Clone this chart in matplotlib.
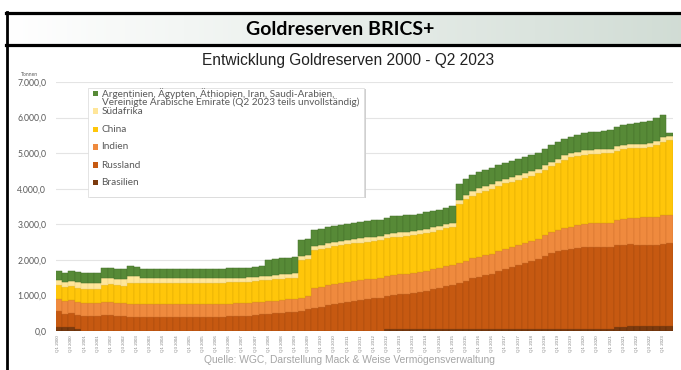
import matplotlib.pyplot as plt
import numpy as np
from matplotlib.ticker import FuncFormatter
from matplotlib.patches import Rectangle
from matplotlib.lines import Line2D

# Quartale Q1 2000 .. Q2 2023
quartale = [f"Q{q} {j}" for j in range(2000, 2024) for q in range(1, 5)][:94]

# Tonnen, je Zeile ein Jahr (Q1..Q4)
brasilien = [120, 120, 120, 60,
             14, 14, 14, 14,  14, 14, 14, 14,  14, 14, 14, 14,  14, 14, 14, 14,
             14, 14, 14, 14,  14, 14, 14, 14,  14, 14, 14, 14,  14, 14, 14, 14,
             14, 14, 14, 14,  14, 14, 14, 14,  14, 14, 14, 14,
             14, 14, 52, 67,
             67, 67, 67, 67,  67, 67, 67, 67,  67, 67, 67, 67,  67, 67, 67, 67,
             67, 67, 67, 67,  67, 67, 67, 67,  67, 67, 67, 67,  67, 67, 67, 67,
             67, 121, 121, 130,
             130, 130, 130, 130,
             130, 130]
russland = [430, 370, 385, 400,
            405, 405, 410, 435,
            440, 410, 405, 390,
            390, 390, 390, 390,
            390, 388, 388, 387,
            387, 387, 387, 388,
            388, 390, 395, 402,
            405, 415, 430, 450,
            460, 480, 500, 520,
            530, 560, 600, 641,
            670, 710, 750, 785,
            810, 840, 860, 883,
            900, 920, 940, 958,
            970, 985, 1010, 1035,
            1070, 1110, 1150, 1208,
            1238, 1275, 1352, 1415,
            1460, 1500, 1540, 1615,
            1680, 1730, 1780, 1839,
            1890, 1944, 2036, 2113,
            2168, 2208, 2241, 2271,
            2299, 2299, 2299, 2300,
            2296, 2295, 2295, 2302,
            2299, 2299, 2299, 2299,
            2327, 2330]
indien = [358, 358, 358, 358,  358, 358, 358, 358,  358, 358, 358, 358,
          358, 358, 358, 358,  358, 358, 358, 358,  358, 358, 358, 358,
          358, 358, 358, 358,  358, 358, 358, 358,  358, 358, 358, 358,
          358, 358, 358, 558,
          558, 558, 558, 558,  558, 558, 558, 558,  558, 558, 558, 558,
          558, 558, 558, 558,  558, 558, 558, 558,  558, 558, 558, 558,
          558, 558, 558, 558,  558, 558, 558, 558,
          566, 575, 587, 598,
          608, 618, 626, 633,
          641, 657, 668, 677,
          687, 705, 744, 754,
          760, 768, 785, 787,
          795, 797]
china = [395, 395, 395, 395,
         395, 395, 395, 500,
         500, 500, 500, 600,
         600, 600, 600, 600,  600, 600, 600, 600,  600, 600, 600, 600,
         600, 600, 600, 600,  600, 600, 600, 600,  600, 600, 600, 600,
         600, 1054, 1054, 1054,
         1054, 1054, 1054, 1054,  1054, 1054, 1054, 1054,  1054, 1054, 1054, 1054,
         1054, 1054, 1054, 1054,  1054, 1054, 1054, 1054,
         1054, 1658, 1722, 1762,
         1797, 1823, 1838, 1843,
         1843, 1843, 1843, 1843,
         1843, 1843, 1843, 1852,
         1874, 1916, 1948, 1948,
         1948, 1948, 1948, 1948,
         1948, 1948, 1948, 1948,
         1948, 1948, 1948, 2010,
         2068, 2113]
suedafrika = [125, 130, 150, 170,
              185, 185, 185, 185,
              185, 185, 185, 182,
              180, 124, 124, 124,
              124, 124, 124, 124,  124, 124, 124, 124,  124, 124, 124, 124,
              124, 124, 124, 124,  124, 124, 124, 124,  124, 124, 124, 124,
              124, 124, 124, 124,  124, 124, 124, 124,  124, 124, 124, 124,
              124, 124, 124, 124,  124, 124, 124, 124,
              125, 125, 125, 125,  125, 125, 125, 125,  125, 125, 125, 125,
              125, 125, 125, 125,  125, 125, 125, 125,  125, 125, 125, 125,
              125, 125, 125, 125,  125, 125, 125, 125,
              125, 125]
andere = [270, 250, 270, 270,
          270, 270, 270, 270,  270, 270, 270, 270,  270, 270, 270, 270,
          270, 270, 270, 270,  270, 270, 270, 270,  270, 270, 270, 270,
          270, 270, 270, 270,
          450, 450, 450, 450,
          450, 450, 450, 450,
          450, 450, 450, 450,
          455, 457, 457, 457,
          460, 460, 460, 460,  460, 460, 460, 460,  460, 460, 460, 460,
          460, 460, 460, 460,  460, 460, 460, 460,  460, 460, 460, 460,
          460, 460, 460, 460,  460, 460, 460, 460,
          480, 490, 500, 505,
          530, 545, 555, 565,
          595, 605, 615, 625,
          630, 60]

serien = [
    ("Brasilien", brasilien, "#7b3a0e", "#5e2c0a"),
    ("Russland", russland, "#c65911", "#a84b0e"),
    ("Indien", indien, "#ef8a3e", "#d47530"),
    ("China", china, "#ffc60a", "#e0ad05"),
    ("Südafrika", suedafrika, "#ffe699", "#e8d088"),
    ("Argentinien, Ägypten, Äthiopien, Iran, Saudi-Arabien,\n"
     "Vereinigte Arabische Emirate (Q2 2023 teils unvollständig)", andere, "#578a37", "#46722b"),
]

W, H = 681, 370
fig = plt.figure(figsize=(W / 100, H / 100), dpi=100)


def fx(px):
    return px / W


def fy(py):
    return 1 - py / H


# Titelbalken mit Verlauf
gax = fig.add_axes([fx(7), fy(44), 1 - fx(7), 30 / H])
verlauf = np.linspace(0, 1, 256)[None, :, None]
links = np.array([1.0, 1.0, 1.0])
rechts = np.array([0.82, 0.865, 0.835])
gax.imshow(links + (rechts - links) * verlauf, aspect="auto", extent=[0, 1, 0, 1])
gax.axis("off")

for y in (13.2, 45.2):
    fig.add_artist(Line2D([fx(5.5), 1], [fy(y), fy(y)], transform=fig.transFigure,
                          color="black", lw=2.3))
fig.add_artist(Line2D([fx(7), fx(7)], [fy(12), 0], transform=fig.transFigure,
                      color="black", lw=2.0))

fig.text(fx(340.5), fy(29.5), "Goldreserven BRICS+", ha="center", va="center",
         fontsize=14, fontweight="bold", family="Lato")
fig.text(fx(348.5), fy(61), "Entwicklung Goldreserven 2000 - Q2 2023", ha="center",
         va="center", fontsize=11.2, family="Liberation Sans", color="#222222")

ax = fig.add_axes([fx(56), fy(331), fx(673) - fx(56), (331 - 82) / H])
x = np.arange(len(quartale))
boden = np.zeros(len(quartale))
for name, werte, farbe, rand in serien:
    ax.bar(x, werte, width=1.0, bottom=boden, color=farbe, edgecolor=rand, linewidth=0.35)
    boden += np.array(werte)

ax.set_xlim(-0.35, len(quartale) - 0.5)
ax.set_ylim(0, 7000)
ax.set_yticks(range(0, 7001, 1000))
ax.yaxis.set_major_formatter(FuncFormatter(
    lambda v, p: f"{v:,.1f}".replace(",", "X").replace(".", ",").replace("X", ".")))
ax.set_xticks(x[::2])
ax.set_xticklabels(quartale[::2], rotation=90, fontsize=3.2, color="#808080",
                   family="Liberation Sans")
ax.tick_params(axis="y", labelsize=6.2, labelcolor="#595959", length=0, pad=7)
ax.tick_params(axis="x", length=0, pad=3)
for lbl in ax.get_yticklabels():
    lbl.set_family("Lato")
ax.grid(axis="y", color="#e4e4e4", lw=0.8)
ax.set_axisbelow(True)
for s in ax.spines.values():
    s.set_visible(False)

fig.text(fx(29), fy(74), "Tonnen", fontsize=3.6, color="#595959", ha="center",
         va="center", family="Lato")

# Legende
fig.add_artist(Rectangle((fx(89.5), fy(198.5)), fx(364) - fx(88), (197 - 88) / H,
                         transform=fig.transFigure, facecolor="#d0d0d0", edgecolor="none",
                         zorder=5))
fig.add_artist(Rectangle((fx(88), fy(197)), fx(364) - fx(88), (197 - 88) / H,
                         transform=fig.transFigure, facecolor="white", edgecolor="#d9d9d9",
                         lw=0.5, zorder=6))
zeilen_y = [93.3, 111, 129.3, 147, 165, 182.7]
for (name, werte, farbe, rand), yy in zip(serien[::-1], zeilen_y):
    fig.add_artist(Rectangle((fx(92.7), fy(yy + 2.7)), 5.5 / W, 5.5 / H,
                             transform=fig.transFigure, facecolor=farbe, edgecolor="none",
                             zorder=7))
    fig.text(fx(101.5), fy(yy), name.split("\n")[0], fontsize=7.2, color="#595959",
             ha="left", va="center", family="Lato", zorder=8)
    if "\n" in name:
        fig.text(fx(101.5), fy(yy + 9.3), name.split("\n")[1], fontsize=7.2,
                 color="#595959", ha="left", va="center", family="Lato", zorder=8)

fig.text(fx(349.5), fy(360), "Quelle: WGC, Darstellung Mack & Weise Vermögensverwaltung",
         ha="center", va="center", fontsize=7.4, color="#a6a6a6", family="Liberation Sans")

fig.savefig("out.png", dpi=100)
